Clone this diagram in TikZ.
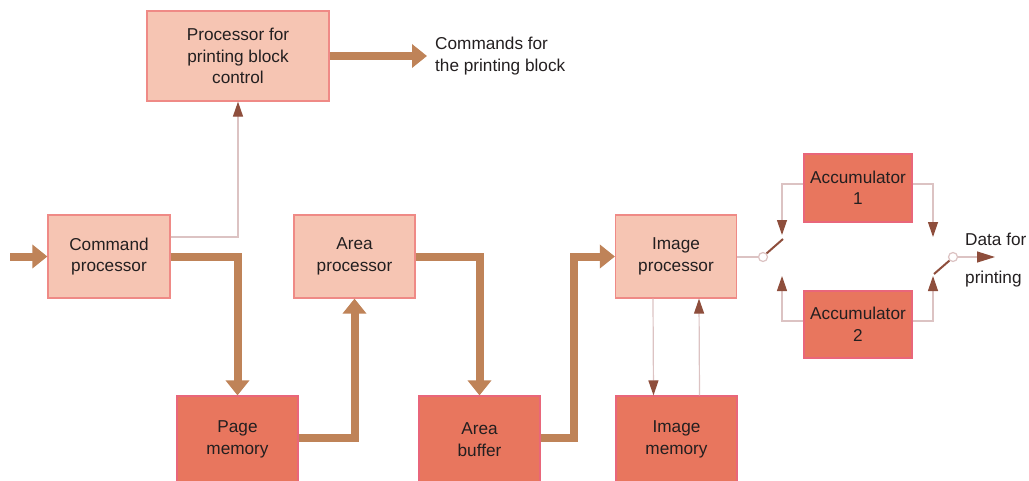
\documentclass[tikz,border=0pt]{standalone}
\usepackage{fontspec}
\setmainfont{Liberation Sans}
\usetikzlibrary{arrows.meta,calc}
\definecolor{lightfill}{HTML}{F6C5B3}
\definecolor{lightedge}{HTML}{EF8A86}
\definecolor{darkfill}{HTML}{E8765E}
\definecolor{darkedge}{HTML}{E9667A}
\definecolor{flowc}{HTML}{BF8358}
\definecolor{linkc}{HTML}{DCC3C3}
\definecolor{tipc}{HTML}{8E4E3C}
\definecolor{txt}{HTML}{231F20}

\begin{document}
\begin{tikzpicture}[x=1pt, y=-1pt,
  font=\fontsize{17.2}{21.5}\selectfont, text=txt,
  box/.style={line width=1.2pt, align=center, inner sep=0pt, text=txt},
  lbox/.style={box, fill=lightfill, draw=lightedge},
  dbox/.style={box, fill=darkfill, draw=darkedge},
  flow/.style={draw=flowc, line width=8pt, line join=miter,
    -{Triangle[length=15pt, width=23pt]}},
  link/.style={draw=linkc, line width=1.2pt,
    -{Triangle[length=15pt, width=10pt, color=tipc]}},
  plain/.style={draw=linkc, line width=1.2pt},
  contact/.style={circle, draw=linkc, fill=white, line width=1.2pt,
    minimum size=9pt, inner sep=0pt},
  blade/.style={draw=tipc, line width=2pt},
  label/.style={inner sep=0pt, align=left}]
\useasboundingbox (0,0) rectangle (1029,480);
\clip (0,0) rectangle (1029,480);

% processing blocks
\node[lbox, minimum width=182pt, minimum height=90pt] (ppb) at (238,56)
  {Processor for\\printing block\\control};
\node[lbox, minimum width=122pt, minimum height=83pt] (cmd) at (109,256.5)
  {Command\\processor};
\node[lbox, minimum width=121pt, minimum height=83pt] (area) at (354.5,256.5)
  {Area\\processor};
\node[lbox, minimum width=121pt, minimum height=83pt] (img) at (676,256.5)
  {Image\\processor};

% memories and buffers (their lower edges run past the page)
\node[dbox, minimum width=121pt, minimum height=87pt] (page) at (237.5,439.5)
  {Page\\memory};
\node[dbox, minimum width=121pt, minimum height=87pt] (buf) at (479.5,439.5)
  {Area\\buffer};
\node[dbox, minimum width=121pt, minimum height=87pt] (imem) at (676.5,439.5)
  {Image\\memory};
\node[dbox, minimum width=108pt, minimum height=68pt] (acc1) at (858,188)
  {Accumulator\\1};
\node[dbox, minimum width=108pt, minimum height=67pt] (acc2) at (858,324.5)
  {Accumulator\\2};

% free texts
\node[label, inner xsep=8pt, anchor=west] (cmdtxt) at (427,56)
  {Commands for\\the printing block};
\node[label, anchor=base west] (dtop) at (965,245) {Data for};
\node[label, anchor=base west] (dbot) at (965,283) {printing};

% wide data paths
\coordinate (in) at (10,256.5);
\draw[flow] (in) -- (cmd.west);
\draw[flow] (cmd.east) -| (page.north);
\draw[flow] ([yshift=1.5pt]page.east) -| (area.south);
\draw[flow] (area.east) -| (buf.north);
\draw[flow] ([yshift=1.5pt]buf.east) -- ($(buf.east)+(33,-1.5)$) |- (img.west);
\draw[flow] (ppb.east) -- (cmdtxt.west);

% control links
\draw[link] ([yshift=19.5pt]cmd.east) -| (ppb.south);
\draw[link] ([xshift=-23pt]img.south) -- ([xshift=-23pt]imem.north);
\draw[link] ([xshift=23pt]imem.north) -- ([xshift=23pt]img.south);

% input switch
\node[contact] (s1) at (763,257) {};
\coordinate (s1tip) at (783,239);
\coordinate (s1a) at (782,235);
\coordinate (s1b) at (782,276);
\draw[plain] (img.east |- s1) -- (s1.west);
\draw[blade] (s1.45) -- (s1tip);
\draw[link] ([yshift=4pt]acc1.west) -| (s1a);
\draw[link] ([yshift=3.5pt]acc2.west) -| (s1b);

% output switch
\node[contact] (s2) at (953,257) {};
\coordinate (s2tip) at (934,274);
\coordinate (s2a) at (933,237);
\coordinate (s2b) at (933,276);
\coordinate (out) at (995,257);
\draw[blade] (s2.225) -- (s2tip);
\draw[link] ([yshift=4pt]acc1.east) -| (s2a);
\draw[link] ([yshift=3.5pt]acc2.east) -| (s2b);
\draw[link, -{Triangle[length=18pt, width=11pt, color=tipc]}] (s2.east) -- (out);
\end{tikzpicture}
\end{document}
